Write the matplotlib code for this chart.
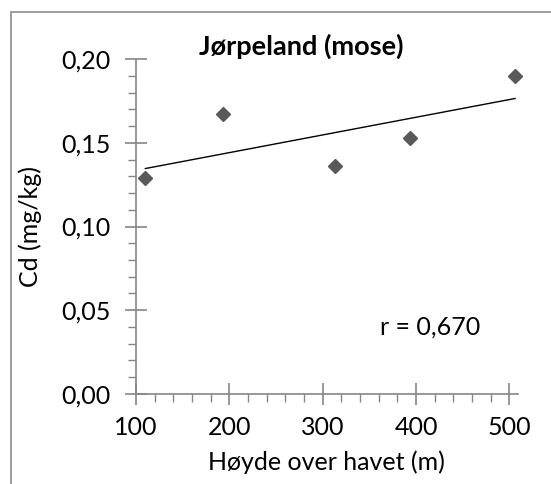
import numpy as np
import matplotlib

matplotlib.use("Agg")
import matplotlib.pyplot as plt
from matplotlib.ticker import MultipleLocator, FuncFormatter
from matplotlib.patches import Rectangle

# data
hoyde = [110, 193, 313, 393, 506]
cd = [0.129, 0.167, 0.136, 0.153, 0.190]
r_text = "r = 0,670"

plt.rcParams["font.family"] = ["Lato", "DejaVu Sans"]

AXIS = "#868686"
MARK = "#595959"
FS = 18

fig = plt.figure(figsize=(5.51, 4.84), dpi=100)
ax = fig.add_axes([0.2468, 0.186, 0.693, 0.692])

# outer chart border (clipped at right/bottom like the screenshot)
fig.patches.append(Rectangle((11 / 551, -0.1), 1.2, 1 - 12 / 484 + 0.1,
                             transform=fig.transFigure, fill=False,
                             edgecolor="#8c8c8c", linewidth=1.2))

ax.plot(hoyde, cd, linestyle="none", marker="D", markersize=7.5,
        color=MARK, zorder=3, clip_on=False)

# linear trend line over the data range
k, m = np.polyfit(hoyde, cd, 1)
xs = np.array([min(hoyde), max(hoyde)])
ax.plot(xs, k * xs + m, color="black", linewidth=1.0, zorder=2)

ax.set_xlim(100, 509)
ax.set_ylim(0, 0.20)
ax.xaxis.set_major_locator(MultipleLocator(100))
ax.xaxis.set_minor_locator(MultipleLocator(20))
ax.yaxis.set_major_locator(MultipleLocator(0.05))
ax.yaxis.set_minor_locator(MultipleLocator(0.01))
ax.yaxis.set_major_formatter(FuncFormatter(lambda v, p: f"{v:.2f}".replace(".", ",")))

for s in ("top", "right"):
    ax.spines[s].set_visible(False)
for s in ("left", "bottom"):
    ax.spines[s].set_color(AXIS)
    ax.spines[s].set_linewidth(1.2)

ax.tick_params(which="major", direction="inout", length=16, width=1.2,
               color=AXIS, labelsize=FS, labelcolor="black")
ax.tick_params(which="minor", direction="out", length=6, width=1.0, color=AXIS)
ax.tick_params(axis="x", which="major", pad=8)
ax.tick_params(axis="y", which="major", pad=10)

ax.set_xlabel("Høyde over havet (m)", fontsize=FS, labelpad=8)
ax.set_ylabel("Cd (mg/kg)", fontsize=FS, labelpad=14)
fig.text(301 / 551, 1 - 46 / 484, "Jørpeland (mose)", fontsize=19.5,
         fontweight="bold", ha="center", va="center")
ax.text(415, 0.04, r_text, fontsize=FS, ha="center", va="center")

fig.savefig("out.png", dpi=100, facecolor="white")
